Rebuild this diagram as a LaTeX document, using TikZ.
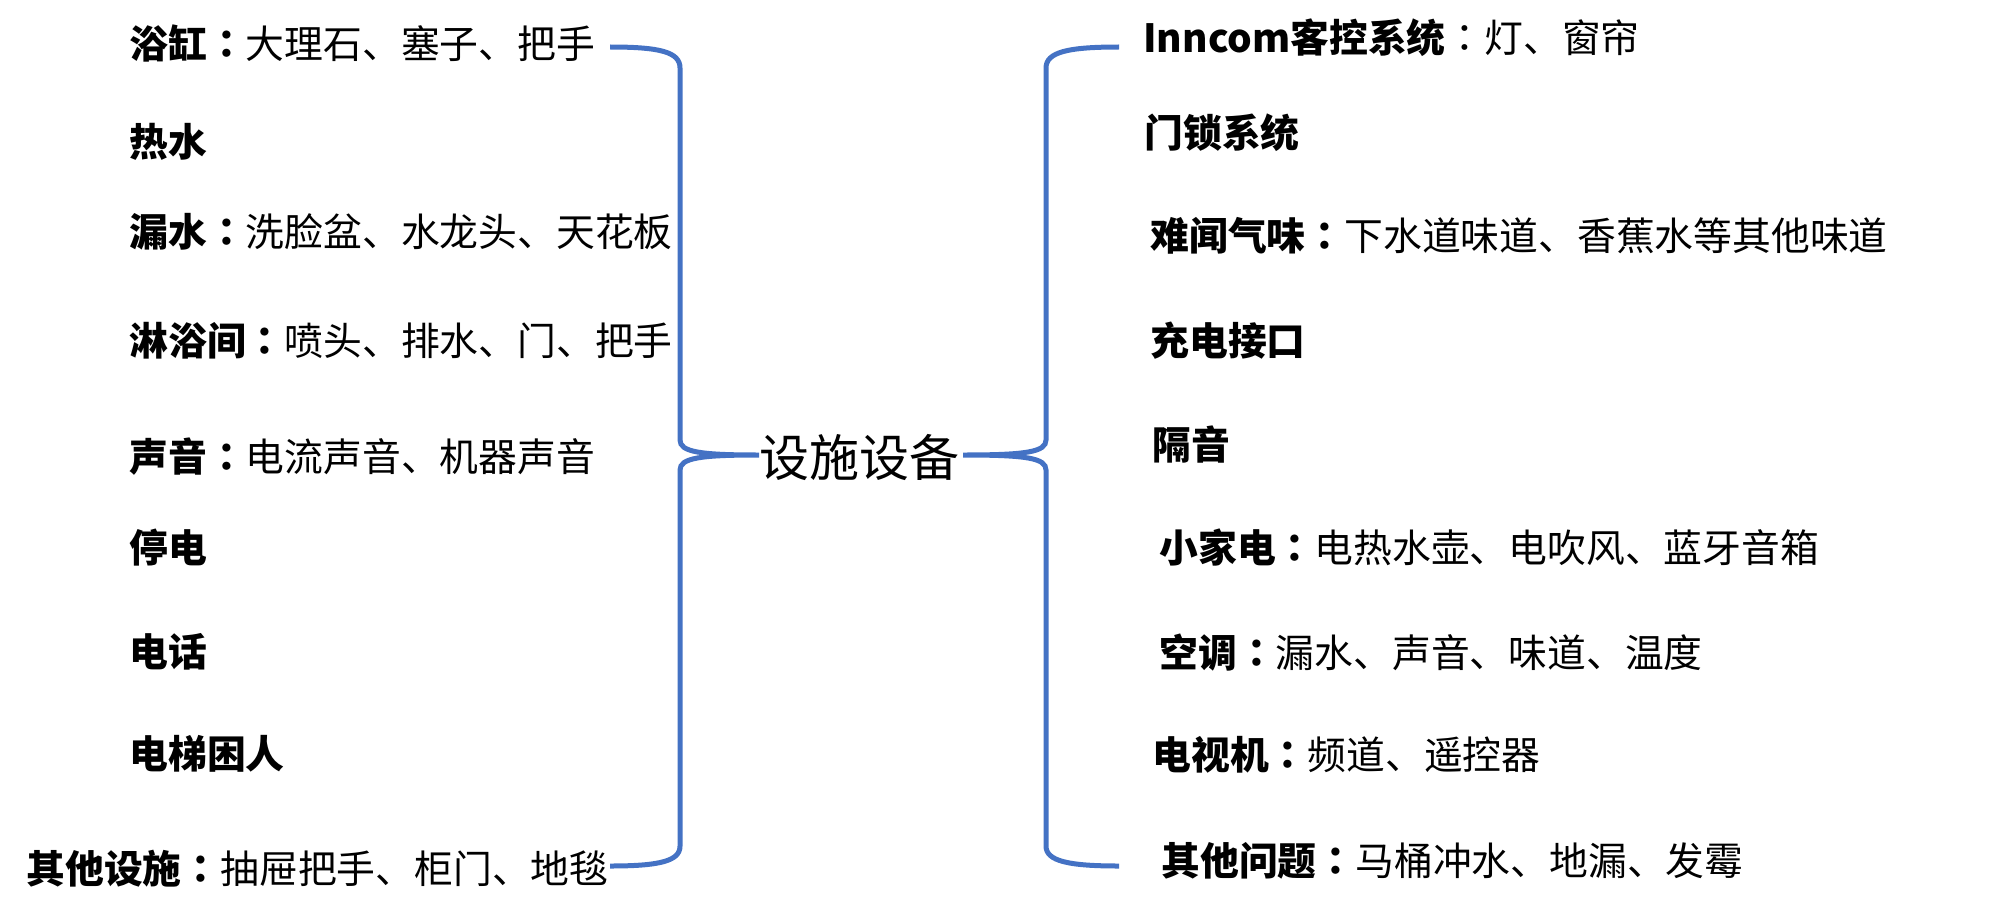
\documentclass[tikz,border=0pt]{standalone}
\usepackage{fontspec}
\setmainfont{Noto Sans CJK SC}
\newfontfamily\tcfont{Noto Sans CJK TC}
\newcommand\mycolon{{\tcfont ：}}
\definecolor{braceblue}{HTML}{4472C4}
\begin{document}
\begin{tikzpicture}[x=0.5pt,y=-0.5pt,
  item/.style={anchor=west,inner sep=0pt,font=\fontsize{19.4pt}{22pt}\selectfont},
  hub/.style={inner sep=1pt,font=\fontsize{25pt}{28pt}\selectfont},
  bracepath/.style={draw=braceblue,line width=2.5pt}]
\useasboundingbox (0,0) rectangle (2000,904);
% centre
\node[hub] (c) at (859,457) {设施设备};
% left items
\node[item] (l1) at (129,43) {{\bfseries 浴缸\mycolon}大理石、塞子、把手};
\node[item] (l2) at (129,142) {\bfseries 热水};
\node[item] (l3) at (129,232) {{\bfseries 漏水\mycolon}洗脸盆、水龙头、天花板};
\node[item] (l4) at (129,341) {{\bfseries 淋浴间\mycolon}喷头、排水、门、把手};
\node[item] (l5) at (129,457) {{\bfseries 声音\mycolon}电流声音、机器声音};
\node[item] (l6) at (129,548) {\bfseries 停电};
\node[item] (l7) at (129,652) {\bfseries 电话};
\node[item] (l8) at (129,754) {\bfseries 电梯困人};
\node[item] (l9) at (26,869) {{\bfseries 其他设施\mycolon}抽屉把手、柜门、地毯};
% right items
\node[item] (r1) at (1143,38) {{\bfseries Inncom客控系统}\mycolon 灯、窗帘};
\node[item] (r2) at (1144,133) {\bfseries 门锁系统};
\node[item] (r3) at (1150,236) {{\bfseries 难闻气味\mycolon}下水道味道、香蕉水等其他味道};
\node[item] (r4) at (1150,341) {\bfseries 充电接口};
\node[item] (r5) at (1152,445) {\bfseries 隔音};
\node[item] (r6) at (1159,548) {{\bfseries 小家电\mycolon}电热水壶、电吹风、蓝牙音箱};
\node[item] (r7) at (1159,653) {{\bfseries 空调\mycolon}漏水、声音、味道、温度};
\node[item] (r8) at (1152,755) {{\bfseries 电视机\mycolon}频道、遥控器};
\node[item] (r9) at (1161,861) {{\bfseries 其他问题\mycolon}马桶冲水、地漏、发霉};
% brace end points
\coordinate (lt) at (610,47);
\coordinate (lb) at (610,866);
\coordinate (rt) at (1119,47);
\coordinate (rb) at (1119,866);
\coordinate (ltip) at (759,455);
\coordinate (rtip) at (963,455);
% left brace
\draw[bracepath] (lt) .. controls (660,47) and (680,52) .. (680,68) -- (680,440)
  .. controls (680,452) and (700,455) .. (ltip)
  .. controls (700,455) and (680,458) .. (680,470) -- (680,846)
  .. controls (680,861) and (660,866) .. (lb);
% right brace
\draw[bracepath] (rt) .. controls (1068,47) and (1046,52) .. (1046,68) -- (1046,440)
  .. controls (1046,452) and (1026,455) .. (rtip)
  .. controls (1026,455) and (1046,458) .. (1046,470) -- (1046,846)
  .. controls (1046,861) and (1068,866) .. (rb);
\end{tikzpicture}
\end{document}
